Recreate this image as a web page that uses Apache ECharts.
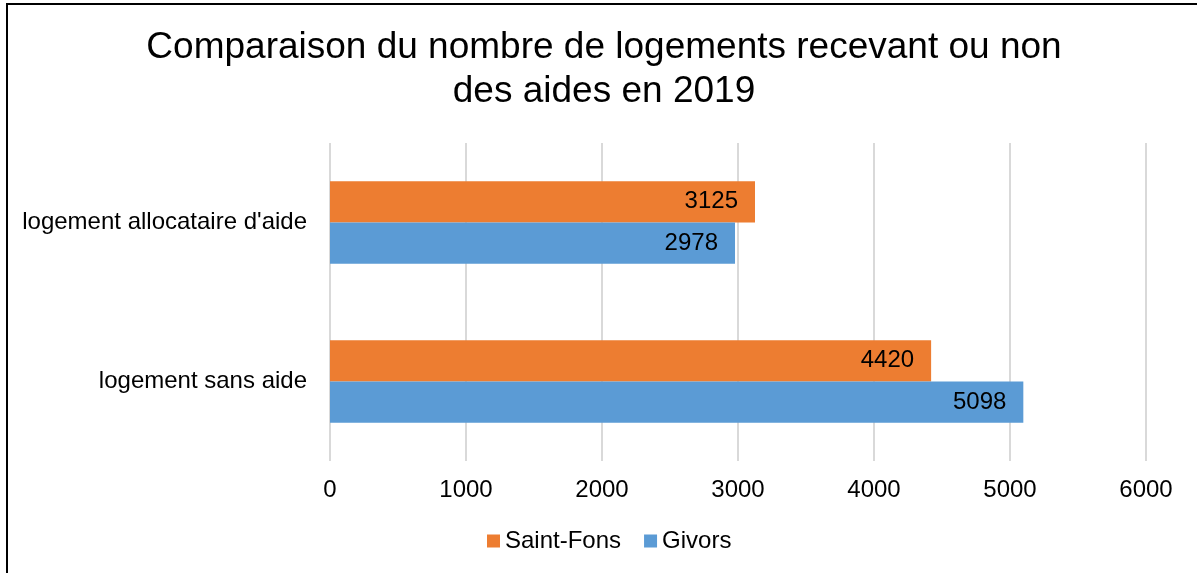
<!DOCTYPE html>
<html>
<head>
<meta charset="utf-8">
<script src="https://cdn.jsdelivr.net/npm/echarts@6/dist/echarts.min.js"></script>
<style>
  html, body { margin: 0; padding: 0; background: #fff; overflow: hidden; }
  #frame { position: absolute; left: 6px; top: 3px; width: 1300px; height: 700px; border: 2px solid #000; box-sizing: border-box; }
  #chart { position: absolute; left: 0; top: 0; width: 1197px; height: 573px; }
</style>
</head>
<body>
<div id="frame"></div>
<div id="chart"></div>
<script>
// categories listed bottom-to-top (category axis starts at the bottom)
const categories = ["logement sans aide", "logement allocataire d'aide"];
const saintFons = [4420, 3125];
const givors = [5098, 2978];
const legendOrder = ["Saint-Fons", "Givors"];

const font = "Liberation Sans, Arial, sans-serif";

const chart = echarts.init(document.getElementById("chart"));

function barLabel() {
  return {
    show: true,
    position: "insideRight",
    distance: 17,
    color: "#000",
    fontSize: 24,
    fontFamily: font,
  };
}

chart.setOption({
  animation: false,
  title: {
    text: "Comparaison du nombre de logements recevant ou non\ndes aides en 2019",
    left: 604,
    textAlign: "center",
    top: 26,
    padding: 0,
    textStyle: { fontSize: 37, fontWeight: "normal", color: "#000", fontFamily: font, lineHeight: 44 },
  },
  legend: {
    data: legendOrder,
    top: 529,
    left: 487,
    padding: 0,
    itemWidth: 13,
    itemHeight: 13,
    itemGap: 23,
    icon: "rect",
    textStyle: { fontSize: 24, color: "#000", fontFamily: font },
  },
  grid: { left: 330, right: 51, top: 143, bottom: 112, containLabel: false },
  xAxis: {
    type: "value",
    min: 0,
    max: 6000,
    interval: 1000,
    axisLine: { show: false },
    axisTick: { show: false },
    axisLabel: { color: "#000", fontSize: 24, fontFamily: font, margin: 17, formatter: (v) => String(v) },
    splitLine: { lineStyle: { color: "#d9d9d9", width: 2 } },
  },
  yAxis: {
    type: "category",
    data: categories,
    axisLine: { show: false },
    axisTick: { show: false },
    axisLabel: { color: "#000", fontSize: 24, fontFamily: font, margin: 23 },
  },
  series: [
    {
      name: "Saint-Fons",
      type: "bar",
      data: saintFons,
      itemStyle: { color: "#ED7D31" },
      barGap: "0%",
      barCategoryGap: "48%",
      label: barLabel(),
    },
    {
      name: "Givors",
      type: "bar",
      data: givors,
      itemStyle: { color: "#5B9BD5" },
      barGap: "0%",
      barCategoryGap: "48%",
      label: barLabel(),
    },
  ],
});
</script>
</body>
</html>
